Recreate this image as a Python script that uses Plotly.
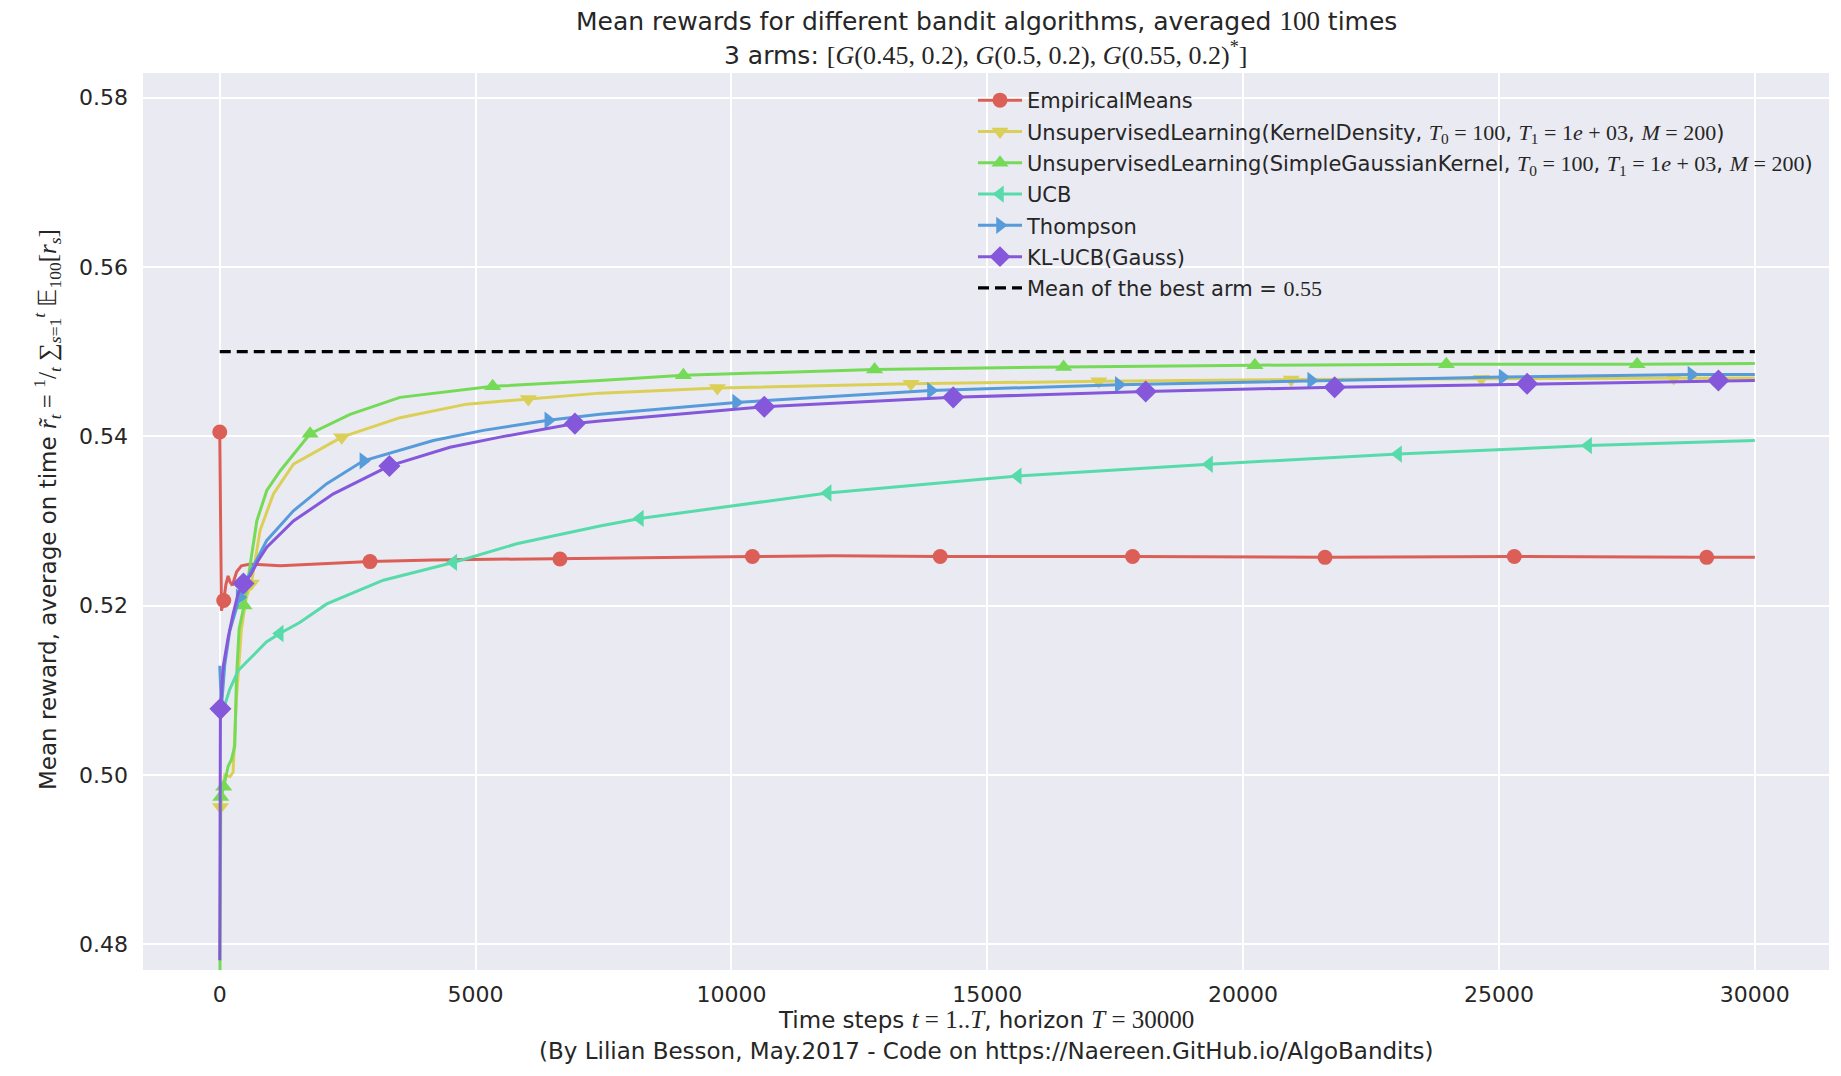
import plotly.graph_objects as go

# ---------------- data ----------------
horizon = 30000
best_mean = 0.55

names = [
    "EmpiricalMeans",
    "UnsupervisedLearning(KernelDensity, {T0}, {T1}, {M})",
    "UnsupervisedLearning(SimpleGaussianKernel, {T0}, {T1}, {M})",
    "UCB",
    "Thompson",
    "KL-UCB(Gauss)",
]

emp_t = [0, 33, 78, 120, 163, 200, 247, 330, 423, 600, 1180, 2221, 2937, 4174, 6649, 7430,
         10410, 12000, 14080, 17840, 21600, 25300, 29060, 30000]
emp_v = [0.5405, 0.5194, 0.5206, 0.5225, 0.5235, 0.5228, 0.5224, 0.5240, 0.5247, 0.5249, 0.5247,
         0.5250, 0.5252, 0.5254, 0.5255, 0.5256, 0.5258, 0.5259, 0.5258, 0.5258, 0.5257, 0.5258,
         0.5257, 0.5257]
emp_mt = [0, 78, 2937, 6649, 10410, 14080, 17840, 21600, 25300, 29060]
emp_mv = [0.5405, 0.5206, 0.5252, 0.5255, 0.5258, 0.5258, 0.5258, 0.5257, 0.5258, 0.5257]

kd_t = [0, 13, 98, 200, 260, 326, 423, 520, 618, 789, 1049, 1440, 2384, 3523, 4826, 6030, 7430,
        9725, 13509, 17179, 20940, 24656, 28417, 30000]
kd_v = [0.4960, 0.4962, 0.5000, 0.4998, 0.5003, 0.5090, 0.5172, 0.5210, 0.5226, 0.5289, 0.5332,
        0.5367, 0.5399, 0.5422, 0.5438, 0.5444, 0.5451, 0.5457, 0.5462, 0.5465, 0.5467, 0.5468,
        0.5469, 0.5469]
kd_mt = [13, 618, 2384, 6030, 9725, 13509, 17179, 20940, 24656, 28417]
kd_mv = [0.4962, 0.5226, 0.5399, 0.5444, 0.5457, 0.5462, 0.5465, 0.5467, 0.5468, 0.5469]

sg_t = [0, 20, 78, 163, 228, 293, 326, 378, 475, 594, 724, 919, 1180, 1766, 2547, 3523, 5334,
        7430, 9060, 12798, 16491, 20229, 23971, 27700, 30000]
sg_v = [0.4700, 0.4974, 0.4986, 0.5010, 0.5018, 0.5034, 0.5113, 0.5172, 0.5200, 0.5248, 0.5300,
        0.5336, 0.5359, 0.5403, 0.5426, 0.5446, 0.5459, 0.5466, 0.5472, 0.5479, 0.5482, 0.5484,
        0.5485, 0.5485, 0.5486]
sg_mt = [20, 78, 475, 1766, 5334, 9060, 12798, 16491, 20229, 23971, 27700]
sg_mv = [0.4974, 0.4986, 0.5200, 0.5403, 0.5459, 0.5472, 0.5479, 0.5482, 0.5484, 0.5485, 0.5485]

ucb_t = [20, 33, 195, 358, 520, 716, 911, 1172, 1563, 2091, 3197, 4565, 5803, 7430, 8211, 11881,
         15596, 19335, 23028, 26743, 30000]
ucb_v = [0.5068, 0.5070, 0.5101, 0.5123, 0.5133, 0.5145, 0.5157, 0.5167, 0.5180, 0.5202, 0.5230,
         0.5251, 0.5273, 0.5294, 0.5303, 0.5333, 0.5353, 0.5367, 0.5379, 0.5389, 0.5395]
ucb_mt = [1172, 4565, 8211, 11881, 15596, 19335, 23028, 26743]
ucb_mv = [0.5167, 0.5251, 0.5303, 0.5333, 0.5353, 0.5367, 0.5379, 0.5389]

th_t = [0, 33, 98, 195, 390, 600, 919, 1440, 2091, 2807, 4174, 5150, 6421, 7430, 10092, 13899,
        17569, 19148, 21330, 25069, 28761, 30000]
th_v = [0.5129, 0.5080, 0.5130, 0.5170, 0.5210, 0.5240, 0.5277, 0.5312, 0.5344, 0.5371, 0.5395,
        0.5407, 0.5419, 0.5426, 0.5440, 0.5454, 0.5461, 0.5463, 0.5466, 0.5470, 0.5473, 0.5473]
th_mt = [390, 2807, 6421, 10092, 13899, 17569, 21330, 25069, 28761]
th_mv = [0.5210, 0.5371, 0.5419, 0.5440, 0.5454, 0.5461, 0.5466, 0.5470, 0.5473]

kl_t = [0, 13, 65, 163, 260, 358, 463, 600, 749, 919, 1440, 2221, 3315, 4500, 5477, 6941, 7430,
        10642, 14335, 18096, 21789, 25550, 29289, 30000]
kl_v = [0.4781, 0.5078, 0.5127, 0.5162, 0.5190, 0.5214, 0.5226, 0.5236, 0.5253, 0.5269, 0.5300,
        0.5332, 0.5365, 0.5387, 0.5399, 0.5415, 0.5418, 0.5435, 0.5446, 0.5453, 0.5458, 0.5462,
        0.5466, 0.5466]
kl_mt = [13, 463, 3315, 6941, 10642, 14335, 18096, 21789, 25550, 29289]
kl_mv = [0.5078, 0.5226, 0.5365, 0.5415, 0.5435, 0.5446, 0.5453, 0.5458, 0.5462, 0.5466]

x_ticks = [0, 5000, 10000, 15000, 20000, 25000, 30000]
y_ticks = [0.48, 0.50, 0.52, 0.54, 0.56, 0.58]

# ---------------- styling ----------------
colors = ["#db5f57", "#dbd057", "#75db57", "#57dbaa", "#579bdb", "#8457db"]
symbols = ["circle", "triangle-down", "triangle-up", "triangle-left", "triangle-right", "diamond"]
msizes = [15, 15, 15, 15, 15, 17]
TXT = "#262626"
SANS = "DejaVu Sans"


def m(s, size=None):
    st = "font-family:'Liberation Serif'"
    if size:
        st += ";font-size:%dpx" % size
    return '<span style="' + st + '">' + s + '</span>'


params = dict(
    T0=m("<i>T</i><sub>0</sub> = 100", 22),
    T1=m("<i>T</i><sub>1</sub> = 1<i>e</i> + 03", 22),
    M=m("<i>M</i> = 200", 22),
)
labels = [n.format(**params) for n in names]

series = [
    (emp_t, emp_v, emp_mt, emp_mv),
    (kd_t, kd_v, kd_mt, kd_mv),
    (sg_t, sg_v, sg_mt, sg_mv),
    (ucb_t, ucb_v, ucb_mt, ucb_mv),
    (th_t, th_v, th_mt, th_mv),
    (kl_t, kl_v, kl_mt, kl_mv),
]

fig = go.Figure()
LW = 3
for i, (t, v, mt, mv) in enumerate(series):
    fig.add_trace(go.Scatter(x=t, y=v, mode="lines", line=dict(color=colors[i], width=LW),
                             showlegend=False, hoverinfo="skip"))
    fig.add_trace(go.Scatter(x=mt, y=mv, mode="markers",
                             marker=dict(color=colors[i], symbol=symbols[i], size=msizes[i],
                                         line=dict(width=0)),
                             showlegend=False, hoverinfo="skip"))

fig.add_trace(go.Scatter(x=[0, horizon], y=[best_mean, best_mean], mode="lines",
                         line=dict(color="black", width=3.2, dash="11px,6px"),
                         showlegend=False, hoverinfo="skip"))

# legend entries
for i in range(6):
    fig.add_trace(go.Scatter(x=[None], y=[None], mode="lines+markers", name=labels[i],
                             legendgroup="g%d" % i,
                             line=dict(color=colors[i], width=LW),
                             marker=dict(color=colors[i], symbol=symbols[i], size=msizes[i])))
fig.add_trace(go.Scatter(x=[None], y=[None], mode="lines",
                         name="Mean of the best arm = " + m("0.55", 22), legendgroup="g6",
                         line=dict(color="black", width=3.2, dash="11px,6px")))

W, H = 1841, 1076
ML, MR, MT, MB = 143, 12, 73, 106
PW, PH = W - ML - MR, H - MT - MB


def px_y(yp):
    return 1 - (yp - MT) / PH


def px_x(xp):
    return (xp - ML) / PW


fig.update_layout(
    width=W, height=H,
    margin=dict(l=ML, r=MR, t=MT, b=MB, autoexpand=False),
    paper_bgcolor="white", plot_bgcolor="#eaeaf2",
    font=dict(family=SANS, size=21, color=TXT),
    showlegend=True,
    legend=dict(x=px_x(973), xanchor="left", y=px_y(80), yanchor="top",
                bgcolor="rgba(0,0,0,0)", borderwidth=0, font=dict(size=21, family=SANS, color=TXT),
                itemwidth=44, tracegroupgap=1, traceorder="grouped"),
    xaxis=dict(range=[-1500, 31450], tickvals=x_ticks, ticktext=[str(v) for v in x_ticks],
               showgrid=True, gridcolor="white", gridwidth=1.6, zeroline=False,
               showline=False, ticks="", ticklabelstandoff=9,
               tickfont=dict(size=22, family=SANS, color=TXT)),
    yaxis=dict(range=[0.47695, 0.58292], tickvals=y_ticks,
               ticktext=["%.2f" % v for v in y_ticks],
               showgrid=True, gridcolor="white", gridwidth=1.6, zeroline=False,
               showline=False, ticks="", ticklabelstandoff=14,
               tickfont=dict(size=22, family=SANS, color=TXT)),
)

ann = []
ann.append(dict(text="Mean rewards for different bandit algorithms, averaged " + m("100", 27) + " times",
                x=0.5, y=px_y(21), xref="paper", yref="paper", showarrow=False,
                xanchor="center", yanchor="middle", font=dict(size=25, family=SANS, color=TXT)))
ann.append(dict(text="3 arms: " + m("[<i>G</i>(0.45, 0.2), <i>G</i>(0.5, 0.2), <i>G</i>(0.55, 0.2)<sup>*</sup>]", 26),
                x=0.5, y=px_y(53), xref="paper", yref="paper", showarrow=False,
                xanchor="center", yanchor="middle", font=dict(size=25, family=SANS, color=TXT)))
ann.append(dict(text="Time steps " + m("<i>t</i> = 1..<i>T</i>", 25) + ", horizon " + m("<i>T</i> = 30000", 25),
                x=0.5, y=px_y(1019), xref="paper", yref="paper", showarrow=False,
                xanchor="center", yanchor="middle", font=dict(size=23, family=SANS, color=TXT)))
ann.append(dict(text="(By Lilian Besson, May.2017 - Code on https://Naereen.GitHub.io/AlgoBandits)",
                x=0.5, y=px_y(1051), xref="paper", yref="paper", showarrow=False,
                xanchor="center", yanchor="middle", font=dict(size=23, family=SANS, color=TXT)))
ann.append(dict(text="Mean reward, average on time " +
                m("<i>r̃</i><sub><i>t</i></sub> = <sup>1</sup>/<sub><i>t</i></sub> ∑<sub><i>s</i>=1</sub><sup><i>t</i></sup> 𝔼<sub>100</sub>[<i>r</i><sub><i>s</i></sub>]", 25),
                x=px_x(47), y=px_y(510), xref="paper", yref="paper", showarrow=False,
                textangle=-90, xanchor="center", yanchor="middle",
                font=dict(size=23, family=SANS, color=TXT)))
fig.update_layout(annotations=ann)

fig.write_html("out.html")
